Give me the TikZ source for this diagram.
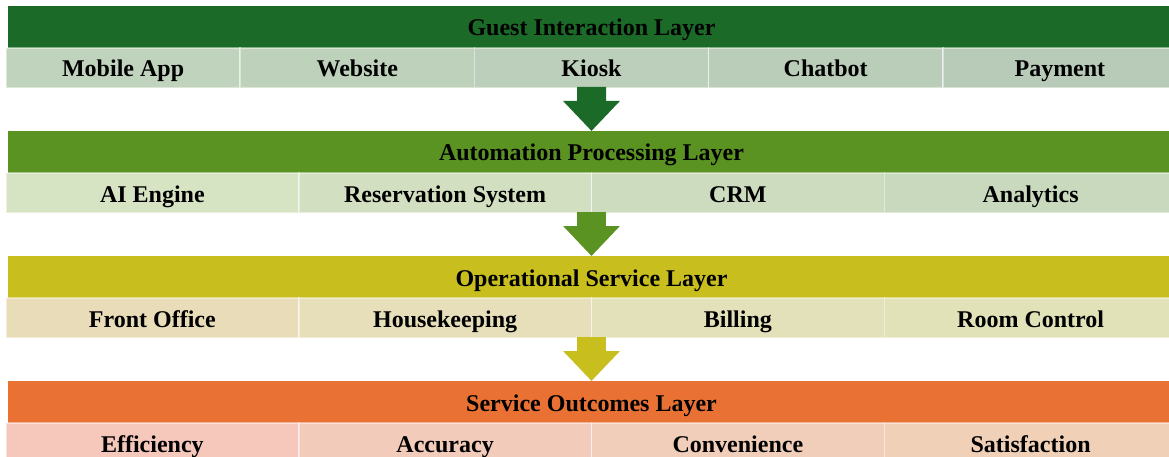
\documentclass[tikz,border=0pt]{standalone}
\usepackage{fontspec}
\setmainfont{Liberation Serif}
\usetikzlibrary{arrows.meta,calc}
\definecolor{hA}{HTML}{1B6A28}
\definecolor{hB}{HTML}{5A9321}
\definecolor{hC}{HTML}{C8BE1E}
\definecolor{hD}{HTML}{E97133}
\definecolor{a1}{HTML}{C0D4BD}\definecolor{a2}{HTML}{BED2BB}\definecolor{a3}{HTML}{BCCFBA}\definecolor{a4}{HTML}{BACDB9}\definecolor{a5}{HTML}{B8CBB8}
\definecolor{b1}{HTML}{D7E4C3}\definecolor{b2}{HTML}{D2E0C1}\definecolor{b3}{HTML}{CDDCBF}\definecolor{b4}{HTML}{C8D9BD}
\definecolor{c1}{HTML}{E9DDB9}\definecolor{c2}{HTML}{E6DFB9}\definecolor{c3}{HTML}{E3E1B9}\definecolor{c4}{HTML}{E1E2B8}
\definecolor{d1}{HTML}{F6C8BC}\definecolor{d2}{HTML}{F3CBBA}\definecolor{d3}{HTML}{F1CEB9}\definecolor{d4}{HTML}{F0D1B8}
\tikzset{
  x=1pt,y=-1pt,
  every node/.style={font=\fontsize{24}{24}\selectfont\bfseries, text=black, inner sep=0pt, outer sep=0pt, text height=21pt, text depth=3pt},
  header/.style={fill=#1, minimum width=1167pt, minimum height=42pt},
  cell/.style={fill=#1, draw=white, draw opacity=0.45, line width=1.5pt, minimum height=40pt},
  flow/.style={draw=#1, line width=29pt, -{Triangle[width=55pt,length=30pt,fill=#1]}, shorten <=-1pt}
}
\begin{document}
\begin{tikzpicture}
\useasboundingbox (0,0) rectangle (1169,457);
\clip (0,0) rectangle (1169,457);
\fill[white] (0,0) rectangle (1169,457);
% Layer 1
\node[header=hA] (h1) at (591.5,27) {Guest Interaction Layer};
\foreach \t/\c [count=\i] in {Mobile App/a1,Website/a2,Kiosk/a3,Chatbot/a4,Payment/a5}
  \node[cell=\c, minimum width=234.2pt] (r1c\i) at ({6+234.2*(\i-0.5)},68) {\t};
% Layer 2
\node[header=hB] (h2) at (591.5,152) {Automation Processing Layer};
\foreach \t/\c [count=\i] in {AI Engine/b1,Reservation System/b2,CRM/b3,Analytics/b4}
  \node[cell=\c, minimum width=292.75pt] (r2c\i) at ({6+292.75*(\i-0.5)},193) {\t};
% Layer 3
\node[header=hC] (h3) at (591.5,277) {Operational Service Layer};
\foreach \t/\c [count=\i] in {Front Office/c1,Housekeeping/c2,Billing/c3,Room Control/c4}
  \node[cell=\c, minimum width=292.75pt] (r3c\i) at ({6+292.75*(\i-0.5)},318) {\t};
% Layer 4
\node[header=hD] (h4) at (591.5,402) {Service Outcomes Layer};
\foreach \t/\c [count=\i] in {Efficiency/d1,Accuracy/d2,Convenience/d3,Satisfaction/d4}
  \node[cell=\c, minimum width=292.75pt] (r4c\i) at ({6+292.75*(\i-0.5)},443) {\t};
% Arrows
\draw[flow=hA] (r1c3.south) -- (h2.north);
\draw[flow=hB] (r2c2.south east) -- (h3.north);
\draw[flow=hC] (r3c2.south east) -- (h4.north);
\end{tikzpicture}
\end{document}
